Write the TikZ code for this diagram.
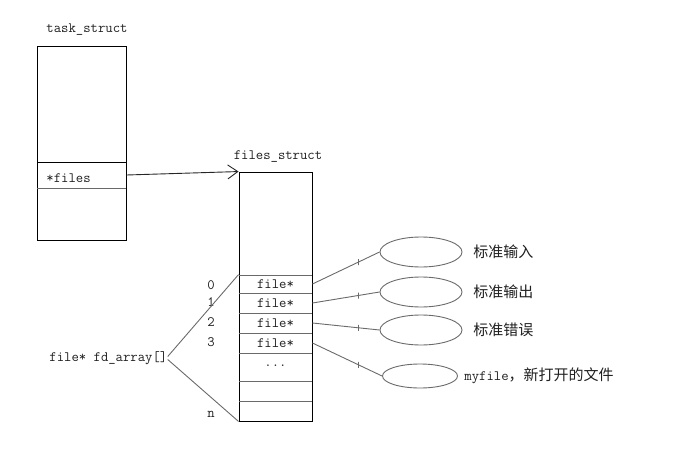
\documentclass[tikz,border=0pt]{standalone}
\usepackage{fontspec}
\newfontfamily\cjk{Noto Sans CJK SC}
\usetikzlibrary{arrows.meta,shapes.geometric}
\definecolor{kInk}{HTML}{000000}
\definecolor{kLine}{HTML}{6A6A6A}
\definecolor{kText}{HTML}{202020}
\newcommand{\monofont}{\ttfamily\fontsize{14.3}{16}\selectfont}
\tikzset{
 fdmap/.style={x=1pt,y=-1pt,line width=.9pt,text=kText,font=\monofont},
 structbox/.style={rectangle,draw=kInk,inner sep=0pt},
 slot/.style={rectangle,inner sep=0pt,minimum width=73pt},
 sep/.style={draw=kLine},
 fileobj/.style={ellipse,draw=kLine,inner sep=0pt,minimum width=82pt,minimum height=30pt},
 link/.style={draw=kLine},
 ptr/.style={draw=kInk!85,-{Straight Barb[length=10pt,width=14pt]}},
 tickmark/.style={rectangle,draw=kLine,inner sep=0pt,minimum width=0pt,minimum height=6pt,line width=.7pt},
 cnlabel/.style={font=\cjk\fontsize{15}{17}\selectfont,anchor=west,inner sep=0pt},
 idx/.style={inner sep=0pt}
}

\begin{document}
\begin{tikzpicture}[fdmap]
 \useasboundingbox (0,0) rectangle (697,458);
 % task_struct
 \node (tasktitle) at (87,30) {task\_struct};
 \node[structbox,minimum width=89pt,minimum height=194pt] (task) at (81.5,143) {};
 \node[slot,minimum width=89pt,minimum height=26pt] (tfiles) at (81.5,175) {};
 \node[anchor=west,inner sep=0pt] (tfileslbl) at (46,178) {*files};
 \draw[kInk] (37,162) -- (126,162);
 \draw[sep] (37,188) -- (126,188);
 % files_struct
 \node (fstitle) at (278,157) {files\_struct};
 \node[structbox,minimum width=73pt,minimum height=249pt] (fs) at (275.5,296.5) {};
 \foreach \y in {275,293,313,333,353,381,401}{\draw[sep] (239,\y) -- (312,\y);}
 \foreach \i/\y/\h in {0/284/18,1/303/20,2/323/20,3/343/20}{
  \node[slot,minimum height=\h pt] (slot\i) at (275.5,\y) {file*};}
 \node[slot] (dots) at (275.5,366) {...};
 \foreach \i/\y in {0/285,1/302,2/322,3/342,n/414}{\node[idx] (idx\i) at (211,\y) {\i};}
 \node[anchor=west,inner sep=0pt] (fdarr) at (49,358) {file* fd\_array[]};
 \draw[link] ([yshift=1.5pt]fdarr.east) -- (slot0.north west);
 \draw[link] ([yshift=-1.5pt]fdarr.east) -- (fs.south west);
 \draw[ptr] (tfiles.east) -- (fs.north west);
 % opened files
 \foreach \i/\y in {1/252,2/292,3/330}{\node[fileobj] (obj\i) at (421,\y) {};}
 \node[fileobj,minimum width=75pt,minimum height=24pt] (obj4) at (420,376) {};
 \node[cnlabel] (std1) at (473,252) {标准输入};
 \node[cnlabel] (std2) at (473,292) {标准输出};
 \node[cnlabel] (std3) at (473,330) {标准错误};
 \node[cnlabel] (myf) at (464,376) {{\monofont myfile}，新打开的文件};
 \draw[link] (slot0.east) -- node[tickmark,pos=.68]{} (obj1.west);
 \draw[link] (slot1.east) -- node[tickmark,pos=.68]{} (obj2.west);
 \draw[link] (slot2.east) -- node[tickmark,pos=.68]{} (obj3.west);
 \draw[link] (slot3.east) -- node[tickmark,pos=.66]{} (obj4.west);
\end{tikzpicture}
\end{document}
